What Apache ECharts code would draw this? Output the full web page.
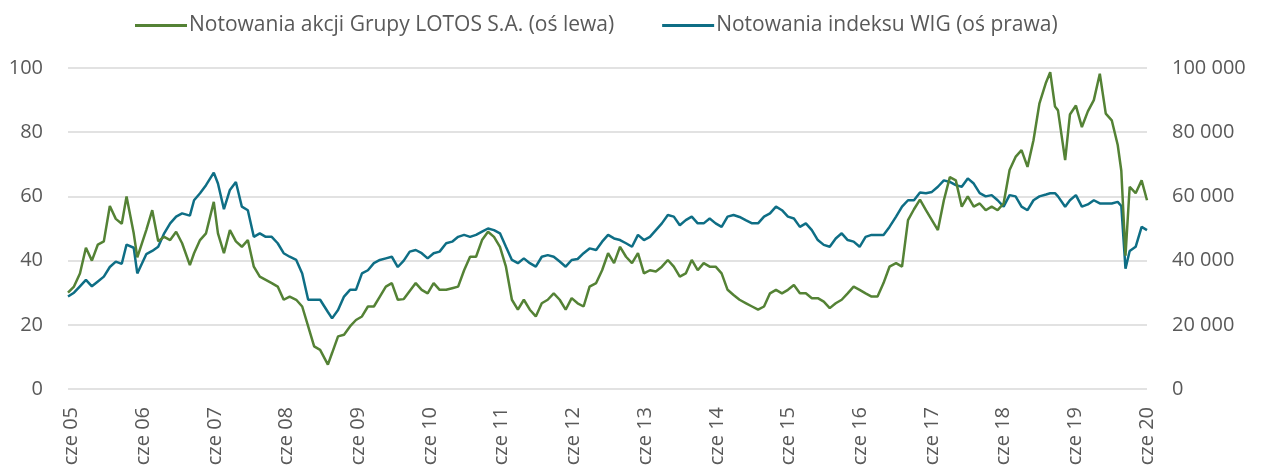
<!DOCTYPE html>
<html>
<head>
<meta charset="utf-8">
<script src="https://cdn.jsdelivr.net/npm/echarts@6/dist/echarts.min.js"></script>
<style>
  html, body { margin: 0; padding: 0; background: #fff; }
  #chart { width: 1261px; height: 472px; }
</style>
</head>
<body>
<div id="chart"></div>
<script>
// months counted from cze 05 (0) to cze 20 (180); series start slightly before the first label
const months = [
  -0.6, 0.4, 1.4, 2.4, 3.4, 4.4, 5.4, 6.4, 7.4, 8.4, 9.2, 10.4, 11.0, 12.5, 13.5, 14.5, 15.5, 16.5, 17.5, 18.5,
  19.8, 20.5, 21.5, 22.5, 23.8, 24.5, 25.5, 26.5, 27.5, 28.5, 29.5, 30.5, 31.5, 32.5, 33.5, 34.5, 35.5, 36.5, 37.6, 38.6,
  39.6, 40.6, 41.6, 42.9, 43.6, 44.6, 45.6, 46.6, 47.6, 48.6, 49.6, 50.6, 51.6, 52.6, 53.6, 54.6, 55.6, 56.6, 57.6, 58.6,
  59.6, 60.6, 61.6, 62.7, 63.7, 64.7, 65.7, 66.7, 67.7, 68.7, 69.7, 70.7, 71.7, 72.7, 73.7, 74.7, 75.7, 76.7, 77.7, 78.7,
  79.7, 80.7, 81.7, 82.7, 83.7, 84.7, 85.7, 86.7, 87.8, 88.8, 89.8, 90.8, 91.8, 92.8, 93.8, 94.8, 95.8, 96.8, 97.8, 98.8,
  99.8, 100.8, 101.8, 102.8, 103.8, 104.8, 105.8, 106.8, 107.8, 108.8, 109.8, 110.8, 111.8, 112.9, 113.9, 114.9, 115.9, 116.9, 117.9, 118.9,
  119.9, 120.9, 121.9, 122.9, 123.9, 124.9, 125.9, 126.9, 127.9, 128.9, 129.9, 130.9, 131.9, 132.9, 133.9, 134.9, 135.9, 136.9, 138, 139,
  140, 141, 142, 143, 144, 145, 146, 147, 148, 149, 150, 151, 152, 153, 154, 155, 156, 157, 158, 159,
  160, 161, 162, 163.1, 163.8, 164.6, 165.1, 166.3, 167.1, 168.1, 169.1, 170.1, 171.1, 172.1, 173.1, 174.1, 175.1, 175.7, 176.4, 177.1,
  178.1, 179.1, 180
];
// Notowania akcji Grupy LOTOS S.A. (oś lewa)
const lotos = [
  30.0, 31.9, 36, 44, 40, 45, 46, 57, 53, 51.5, 60, 48.5, 41, 49.5, 55.7, 46, 47.4, 46.4, 49, 45.4,
  38.6, 42.3, 46.4, 48.5, 58.3, 48.5, 42.3, 49.5, 46, 44.3, 46.4, 38.1, 35, 34, 33, 31.9, 27.8, 28.8, 27.8, 25.7,
  19.5, 13.3, 12.2, 7.6, 11.2, 16.4, 16.9, 19.5, 21.5, 22.6, 25.7, 25.7, 28.8, 31.9, 33, 27.8, 28, 30.5, 33, 30.9,
  29.8, 33, 30.9, 30.9, 31.4, 31.9, 37, 41.2, 41.2, 46.4, 49, 47.4, 44.3, 38.1, 27.8, 24.7, 27.8, 24.7, 22.6, 26.7,
  27.8, 29.8, 27.8, 24.7, 28.3, 26.7, 25.7, 31.9, 33, 37, 42.3, 39.2, 44.3, 41.2, 39.2, 42.3, 36, 37, 36.6, 38.1,
  40.2, 38.1, 35, 36, 40.2, 37, 39.2, 38.1, 38.1, 36, 30.9, 29.3, 27.8, 26.7, 25.7, 24.7, 25.7, 29.8, 30.9, 29.8,
  30.9, 32.4, 29.8, 29.8, 28.3, 28.3, 27.2, 25.2, 26.7, 27.8, 29.8, 31.9, 30.9, 29.8, 28.8, 28.8, 33, 38.1, 39.2, 38.1,
  52.6, 56, 59, 55.7, 52.6, 49.5, 58.8, 66, 65, 56.8, 60, 56.8, 57.8, 55.7, 56.8, 55.7, 57.8, 68.2, 72.3, 74.4,
  69.2, 77.5, 89, 95.5, 98.7, 88, 86.8, 71.3, 85.5, 88.3, 81.6, 86.5, 90, 98.2, 85.8, 83.7, 76, 68, 41.5, 63,
  61, 65, 58.8
];
// Notowania indeksu WIG (oś prawa)
const wig = [
  28800, 30000, 32000, 34000, 32000, 33500, 35000, 38000, 39700, 39000, 45000, 44000, 36000, 42000, 43000, 44300, 48500, 51600, 53700, 54700,
  54000, 58800, 61000, 63500, 67400, 64000, 56000, 62000, 64500, 56800, 55700, 47400, 48500, 47400, 47400, 45400, 42300, 41200, 40200, 36000,
  27800, 27800, 27800, 24000, 22000, 24600, 28800, 30900, 30900, 36000, 37000, 39200, 40200, 40700, 41200, 38000, 40000, 42800, 43300, 42300,
  40700, 42300, 42800, 45400, 45900, 47400, 48000, 47400, 48000, 49000, 50000, 49500, 48500, 44300, 40200, 39200, 40700, 39200, 38100, 41200,
  41700, 41200, 39700, 38100, 40200, 40500, 42300, 43800, 43300, 45900, 48000, 46900, 46400, 45400, 44300, 48000, 46400, 47400, 49500, 51600,
  54200, 53700, 51000, 52600, 53700, 51600, 51600, 53100, 51600, 50500, 53700, 54200, 53600, 52500, 51600, 51600, 53700, 54700, 56800, 55700,
  53700, 53100, 50500, 51600, 49500, 46400, 44900, 44300, 46900, 48500, 46400, 45900, 44300, 47400, 48000, 48000, 48000, 50500, 53700, 56800,
  58800, 58800, 61200, 61000, 61400, 63000, 65000, 64500, 63500, 63000, 65600, 64000, 61000, 60000, 60400, 58800, 56800, 60400, 60000, 56800,
  55700, 58800, 60000, 60600, 61000, 61000, 60000, 56800, 58800, 60400, 56800, 57500, 58800, 57800, 57800, 57800, 58300, 57000, 37500, 43000,
  44300, 50500, 49500
];
const tickMonths = [0, 12, 24, 36, 48, 60, 72, 84, 96, 108, 120, 132, 144, 156, 168, 180];
const yearLabels = ['05','06','07','08','09','10','11','12','13','14','15','16','17','18','19','20'];

const textColor = '#595959';
const font = 'Open Sans';
const chart = echarts.init(document.getElementById('chart'));
chart.setOption({
  animation: false,
  legend: {
    top: 10, left: 130,
    itemWidth: 52, itemHeight: 3, itemGap: 48,
    icon: 'rect',
    textStyle: { color: textColor, fontSize: 21, fontFamily: font, padding: [0, 0, 0, -3] },
    data: ['Notowania akcji Grupy LOTOS S.A. (oś lewa)', 'Notowania indeksu WIG (oś prawa)']
  },
  grid: { left: 68, right: 114, top: 68, bottom: 83, outerBoundsMode: 'none' },
  xAxis: {
    type: 'value', min: -0.6, max: 180,
    axisLine: { show: false }, axisTick: { show: false }, splitLine: { show: false },
    axisLabel: {
      customValues: tickMonths,
      rotate: 90, margin: 18, color: textColor, fontSize: 20, fontFamily: font,
      formatter: v => 'cze ' + yearLabels[tickMonths.indexOf(v)]
    }
  },
  yAxis: [
    {
      type: 'value', min: 0, max: 100, interval: 20,
      axisLine: { show: false }, axisTick: { show: false },
      splitLine: { lineStyle: { color: '#d9d9d9', width: 1.5 } },
      axisLabel: { color: textColor, fontSize: 20, fontFamily: font, margin: 25 }
    },
    {
      type: 'value', min: 0, max: 100000, interval: 20000,
      axisLine: { show: false }, axisTick: { show: false }, splitLine: { show: false },
      axisLabel: {
        color: textColor, fontSize: 20, fontFamily: font, margin: 25,
        formatter: v => String(v).replace(/\B(?=(\d{3})+(?!\d))/g, ' ')
      }
    }
  ],
  series: [
    {
      name: 'Notowania akcji Grupy LOTOS S.A. (oś lewa)', type: 'line', yAxisIndex: 0, z: 3,
      data: months.map((m, i) => [m, lotos[i]]),
      showSymbol: false, lineStyle: { color: '#548235', width: 2.5 }, itemStyle: { color: '#548235' }
    },
    {
      name: 'Notowania indeksu WIG (oś prawa)', type: 'line', yAxisIndex: 1, z: 2,
      data: months.map((m, i) => [m, wig[i]]),
      showSymbol: false, lineStyle: { color: '#0e6e85', width: 2.5 }, itemStyle: { color: '#0e6e85' }
    }
  ]
});
</script>
</body>
</html>
